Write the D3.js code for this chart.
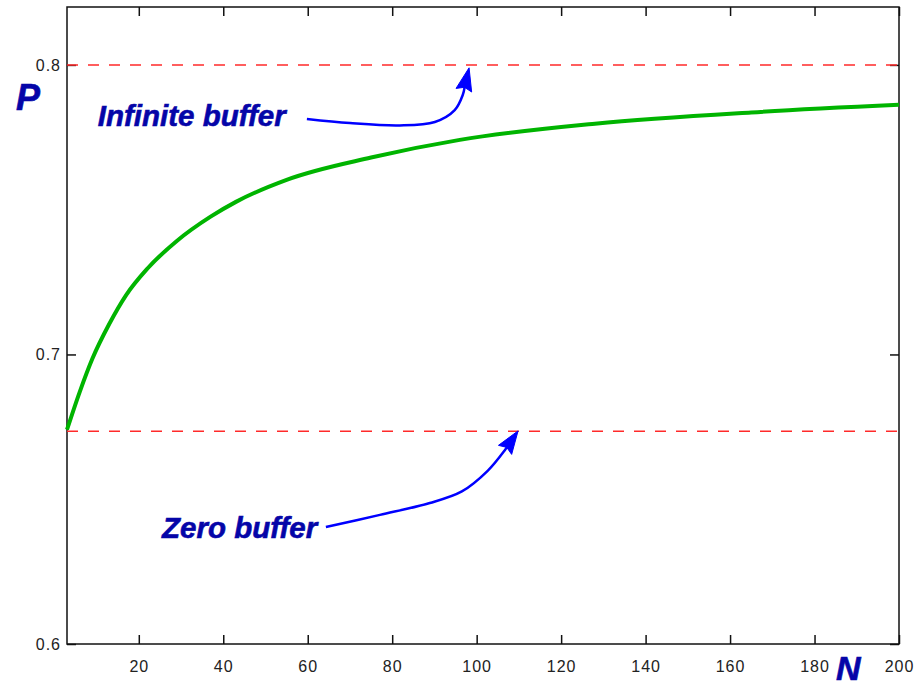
<!DOCTYPE html>
<html>
<head>
<meta charset="utf-8">
<script src="https://cdn.jsdelivr.net/npm/d3@7"></script>
<style>
  body { margin: 0; background: #fff; }
  svg { display: block; }
</style>
</head>
<body>
<div id="chart"></div>
<script>
// values
var nValues = [3, 6, 9, 13, 17, 22, 29, 37, 43, 55, 75, 96, 128, 165, 200];
var pValues = [0.674, 0.687, 0.6985, 0.7105, 0.7205, 0.7296, 0.7392, 0.7476, 0.7527, 0.7603, 0.768, 0.7741, 0.7797, 0.7836, 0.7862];
var zeroBuffer = 0.6735;
var infiniteBuffer = 0.8;
var xTicks = [20, 40, 60, 80, 100, 120, 140, 160, 180, 200];
var yTicks = [0.6, 0.7, 0.8];

// annotation arrows, in data units (N, P)
var infArrowN = [59.8, 70, 81.8, 90.1, 94.8, 96.7, 98.2];
var infArrowP = [0.7813, 0.7799, 0.7791, 0.7803, 0.7844, 0.7896, 0.799];
var zeroArrowN = [64.3, 77.1, 88.9, 96.5, 102.6, 106.7, 109.8];
var zeroArrowP = [0.6404, 0.6446, 0.6487, 0.6527, 0.6598, 0.667, 0.6736];

var width = 922, height = 687;
var margin = {top: 7, right: 23, bottom: 43, left: 67};

var svg = d3.select("#chart").append("svg")
    .attr("width", width)
    .attr("height", height);

var x = d3.scaleLinear().domain([3, 200]).range([margin.left, width - margin.right]);
var y = d3.scaleLinear().domain([0.6, 0.82]).range([height - margin.bottom, margin.top]);

var tickFont = "'Liberation Sans', Arial, sans-serif";

// axes, ticks pointing inwards
var bottom = svg.append("g")
    .attr("transform", "translate(0," + y.range()[0] + ")")
    .call(d3.axisBottom(x).tickValues(xTicks).tickSize(-9).tickPadding(17).tickFormat(d3.format("d")));
var top_ = svg.append("g")
    .attr("transform", "translate(0," + y.range()[1] + ")")
    .call(d3.axisTop(x).tickValues(xTicks).tickSize(-9).tickFormat(""));
var left = svg.append("g")
    .attr("transform", "translate(" + x.range()[0] + ",0)")
    .call(d3.axisLeft(y).tickValues(yTicks).tickSize(-9).tickPadding(6).tickFormat(d3.format(".1f")));
var right = svg.append("g")
    .attr("transform", "translate(" + x.range()[1] + ",0)")
    .call(d3.axisRight(y).tickValues(yTicks).tickSize(-9).tickFormat(""));

[bottom, top_, left, right].forEach(function(g) {
    g.select(".domain").remove();
    g.selectAll(".tick line").attr("stroke", "#111").attr("stroke-width", 1.5);
    g.selectAll(".tick text")
        .attr("font-family", tickFont)
        .attr("font-size", 16)
        .attr("letter-spacing", 1)
        .attr("fill", "#222");
});

// frame
svg.append("rect")
    .attr("x", x.range()[0])
    .attr("y", y.range()[1])
    .attr("width", x.range()[1] - x.range()[0])
    .attr("height", y.range()[0] - y.range()[1])
    .attr("fill", "none")
    .attr("stroke", "#111")
    .attr("stroke-width", 1.5);

// limit lines
[zeroBuffer, infiniteBuffer].forEach(function(v) {
    svg.append("line")
        .attr("x1", x.range()[0]).attr("x2", x.range()[1])
        .attr("y1", y(v)).attr("y2", y(v))
        .attr("stroke", "#ff2a2a")
        .attr("stroke-width", 1.5)
        .attr("stroke-dasharray", "11,10");
});

// main curve
var curve = d3.line()
    .x(function(d, i) { return x(nValues[i]); })
    .y(function(d) { return y(d); })
    .curve(d3.curveMonotoneX);

svg.append("path")
    .attr("d", curve(pValues))
    .attr("fill", "none")
    .attr("stroke", "#00b400")
    .attr("stroke-width", 4);

// arrows
function arrow(ns, ps) {
    var pts = ns.map(function(n, i) { return [x(n), y(ps[i])]; });
    var tip = pts[pts.length - 1];
    var prev = pts[pts.length - 2];
    var a = Math.atan2(tip[1] - prev[1], tip[0] - prev[0]);
    var len = 23, w = 8;
    var bx = tip[0] - len * Math.cos(a), by = tip[1] - len * Math.sin(a);
    var nx = -Math.sin(a), ny = Math.cos(a);

    var body = pts.slice(0, pts.length - 1).concat([[bx + 4 * Math.cos(a), by + 4 * Math.sin(a)]]);
    svg.append("path")
        .attr("d", d3.line().curve(d3.curveCatmullRom)(body))
        .attr("fill", "none")
        .attr("stroke", "#0000ff")
        .attr("stroke-width", 2.5);

    var head = [
        tip,
        [bx + w * nx, by + w * ny],
        [bx + 3 * Math.cos(a), by + 3 * Math.sin(a)],
        [bx - w * nx, by - w * ny]
    ];
    svg.append("path")
        .attr("d", "M" + head.join("L") + "Z")
        .attr("fill", "#0000ff")
        .attr("stroke", "#0000ff")
        .attr("stroke-width", 1);
}
arrow(infArrowN, infArrowP);
arrow(zeroArrowN, zeroArrowP);

// labels
var labelFont = "'Liberation Sans', Arial, sans-serif";
function label(txt, px, py, size) {
    svg.append("text")
        .attr("x", px).attr("y", py)
        .attr("font-family", labelFont)
        .attr("font-weight", "bold")
        .attr("font-style", "italic")
        .attr("font-size", size)
        .attr("fill", "#0505a8")
        .attr("stroke", "#0505a8")
        .attr("stroke-width", 0.6)
        .text(txt);
}
label("Infinite buffer", x(10.3), y(0.7789), 29.5);
label("Zero buffer", x(25.5), y(0.6366), 29.5);
label("P", 16, 110, 36);
label("N", 836, 680, 34);
</script>
</body>
</html>
